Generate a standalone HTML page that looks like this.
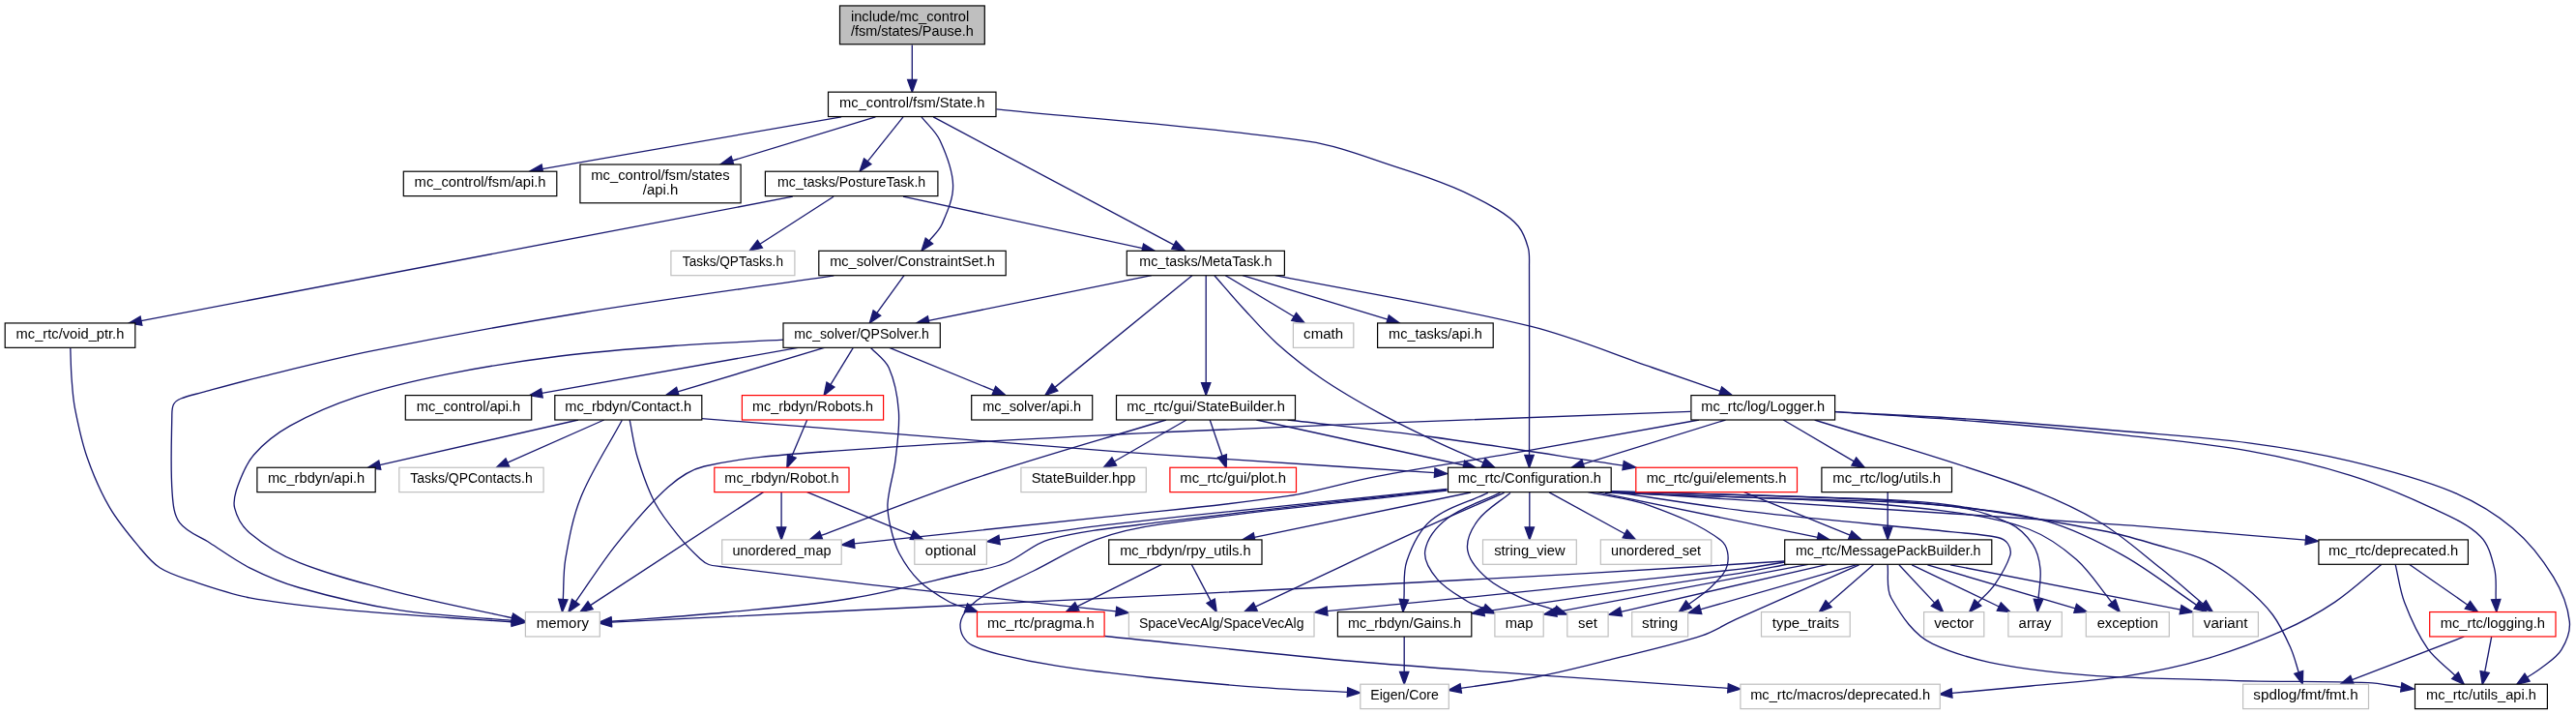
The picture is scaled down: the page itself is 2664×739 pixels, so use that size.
<!DOCTYPE html><html><head><meta charset="utf-8"><title>Pause.h include graph</title><style>html,body{margin:0;padding:0;background:#fff;}svg{display:block;will-change:transform;}text{font-family:"Liberation Sans",sans-serif;font-size:14.0px;fill:#000;}</style></head><body>
<svg width="2664" height="739" viewBox="0 0 2664 739">
<rect width="2664" height="739" fill="#fff"/>
<g fill="none" stroke="#191970" stroke-width="1.33">
<path d="M943.3,46.5L943.3,82.3"/>
<path d="M870.1,120.9L560.91,174.58"/>
<path d="M905.4,120.9L757.53,166.01"/>
<path d="M934,120.9L897.22,166.85"/>
<path d="M953,120.9C959.33,128.93 967.71,135.71 972,145C978.77,159.66 985.23,175.35 985.6,191.5C985.92,205.54 979.54,219.1 974,232C971.18,238.57 965.28,243.33 960.93,249"/>
<path d="M965.2,120.9L1214.02,253.2"/>
<path d="M1030.5,112.8C1138,123.93 1246.06,130.6 1353,146.2C1385.36,150.92 1416.02,163.73 1447.2,173.6C1466.08,179.57 1484.86,186 1503.1,193.7C1518.48,200.19 1533.58,207.51 1547.9,216.1C1556.1,221.02 1564.3,226.56 1570.3,234C1575.44,240.38 1578.24,248.5 1580.4,256.4C1582.04,262.39 1581.47,268.79 1581.5,275C1581.83,340.17 1581.5,405.33 1581.5,470.5"/>
<path d="M819.8,203.2L145.97,331.57"/>
<path d="M862,203.2L785.93,252.25"/>
<path d="M934,203.2L1181.59,256.56"/>
<path d="M862.3,284.8C774.87,297.7 687.23,309.26 600,323.5C528.1,335.23 456.43,348.39 385,362.7C345.57,370.6 306.57,380.57 267.5,390.1C247.8,394.91 228.27,400.38 208.7,405.7C201.43,407.68 193.94,409.08 187,412C184.05,413.24 180.96,415.15 179.5,418C177.66,421.6 177.86,425.96 177.8,430C177.39,456.46 176.16,483 178.1,509.4C178.88,520.03 179.51,531.88 185.9,540.4C193.33,550.3 206.39,554.31 216.8,561C230.46,569.78 243.58,579.54 258.1,586.8C274.7,595.1 291.94,602.44 309.8,607.5C343.72,617.11 378.15,625.33 413,630.7C451.49,636.63 490.57,637.78 529.35,641.32"/>
<path d="M935,284.7L906.92,323.47"/>
<path d="M1190.9,284.7L960.34,331.42"/>
<path d="M1232.9,284.7L1090.88,400.39"/>
<path d="M1247.2,284.7L1247.2,395.6"/>
<path d="M1255.9,284.7C1265.7,295.87 1275.24,307.27 1285.3,318.2C1296.78,330.67 1307.86,343.6 1320.5,354.9C1335.33,368.16 1351.05,380.51 1367.5,391.7C1386.39,404.55 1406.28,415.89 1426.3,426.9C1445.48,437.44 1465.24,446.9 1485,456.3C1501.19,464 1517.75,470.9 1534.13,478.21"/>
<path d="M1267.3,284.7L1338.16,327.3"/>
<path d="M1285,284.7L1434.96,330.22"/>
<path d="M1318.7,284.7C1406.63,302.2 1495.4,315.94 1582.5,337.2C1625.78,347.76 1666.94,365.61 1709.1,380C1732.48,387.98 1755.78,396.22 1779.12,404.33"/>
<path d="M72.8,359.7C73.2,369.8 73.25,379.92 74,390C74.79,400.56 75.37,411.2 77.4,421.6C80.81,439.03 84.43,456.54 90.3,473.3C96.54,491.11 104.08,508.61 113.6,524.9C122.29,539.76 133.58,552.98 144.6,566.2C150.82,573.66 157.06,581.51 165.2,586.8C174.59,592.89 185.58,596.16 196.2,599.7C216.59,606.5 236.97,613.84 258.1,617.8C292.21,624.2 326.87,627.24 361.4,630.7C395.76,634.14 430.26,636.03 464.7,638.5C486.23,640.04 507.79,641.33 529.33,642.75"/>
<path d="M810.7,351.2C772.4,353.3 734.06,354.72 695.8,357.5C656.94,360.32 618.06,363.17 579.4,368C540.38,372.88 501.46,378.89 462.9,386.6C431.53,392.87 400.19,399.91 369.8,409.9C345.68,417.83 322.05,427.78 299.9,440.2C286.02,447.98 273.06,458.01 262.6,470C254.7,479.06 250.11,490.71 246,502C243.36,509.25 240.74,517.41 242.6,524.9C245.02,534.64 250.44,544.22 258.1,550.7C273.45,563.67 291.14,574.24 309.8,581.7C343.15,595.03 378.24,603.59 413,612.6C451.56,622.59 490.74,629.98 529.61,638.66"/>
<path d="M826.7,359.2L560.4,406.33"/>
<path d="M853.3,359.2L700.95,404.87"/>
<path d="M882.5,359.2L858.91,397.53"/>
<path d="M919.2,359.2L1027.87,403.68"/>
<path d="M900.3,359.2C906.6,366.17 915.4,371.51 919.2,380.1C925.41,394.14 928.28,409.69 929.4,425C930.61,441.59 928.08,458.28 926.1,474.8C924.28,490 919.11,504.73 918,520C917.39,528.37 919.11,536.82 921,545C923.13,554.24 925.51,563.64 930,572C935.6,582.43 942.4,592.46 950.9,600.7C959.84,609.37 970.79,615.81 981.6,622C986.93,625.05 993.17,626.14 998.96,628.22"/>
<path d="M598,434L392.78,480.62"/>
<path d="M624.7,434L524.89,478.23"/>
<path d="M643.3,434.2C629.1,460.77 612.07,486.01 600.7,513.9C592.43,534.2 588.56,556.11 584.8,577.7C582.4,591.49 583.12,605.65 582.28,619.62"/>
<path d="M651.2,434.2C653.93,447.23 655.5,460.57 659.4,473.3C664.26,489.19 669.6,505.12 677.4,519.8C684.35,532.88 693.99,544.38 703.3,555.9C709.57,563.66 716.69,570.71 724,577.5C726.64,579.95 729.63,582.22 733,583.5C736.79,584.94 740.98,585 745,585.5C796.65,591.93 848.29,598.44 900,604.3C984.71,613.9 1069.52,622.7 1154.28,631.9"/>
<path d="M725.7,432.6C767.13,435.83 808.57,439 850,442.3C950.01,450.27 1049.95,459.08 1150,466.4C1261.16,474.53 1372.42,481.22 1483.63,488.64"/>
<path d="M834.7,434L818.86,471.52"/>
<path d="M808.1,508.6L808.1,545"/>
<path d="M834.7,508.6L942.97,553.06"/>
<path d="M789.5,508.6L610.58,625.68"/>
<path d="M1206,434C1139.53,454.3 1072.5,472.84 1006.6,494.9C953.51,512.68 901.66,533.94 849.18,553.47"/>
<path d="M1227,434L1152.27,477.01"/>
<path d="M1251.2,434L1263.98,471.2"/>
<path d="M1299.4,434L1513.7,480.73"/>
<path d="M1331.6,434C1381.07,439.83 1430.64,444.8 1480,451.5C1546.34,460.5 1612.43,471.22 1678.64,481.08"/>
<path d="M1748.3,425.4C1658.87,428.73 1569.43,431.91 1480,435.4C1386.66,439.04 1293.29,442.12 1200,446.8C1083.29,452.65 966.54,458.3 850,467C809.24,470.04 768.15,472.9 728.3,482C714.37,485.18 701.81,493.84 691.1,503.3C671.37,520.74 654.54,541.31 638,561.8C622.55,580.94 609.55,601.93 595.32,622"/>
<path d="M1784.5,434L1637.32,479.65"/>
<path d="M1844.3,434L1917.29,476.91"/>
<path d="M1876.6,434C1945.93,456 2016.11,475.51 2084.6,500C2114.32,510.63 2143.55,523.28 2170.8,539.2C2194.12,552.82 2214.21,571.35 2235.4,588.1C2250.08,599.7 2264.03,612.19 2278.35,624.23"/>
<path d="M1898.1,425.6C1948.73,429.07 1999.42,431.88 2050,436C2100.06,440.08 2150.07,444.75 2200,450.2C2242.05,454.79 2284.26,458.68 2325.9,466.1C2361.27,472.4 2396.4,480.61 2430.7,491.3C2459.46,500.26 2487.32,512.12 2514.6,524.9C2532.2,533.14 2551.02,540.7 2565,554.2C2573.79,562.69 2576.76,575.93 2579.7,587.8C2582.25,598.11 2580.69,609.01 2581.19,619.61"/>
<path d="M1898.1,425.6C1948.73,428.4 1999.4,430.58 2050,434C2100.05,437.38 2150.03,441.69 2200,446C2241.99,449.62 2284.12,452.26 2325.9,457.8C2361.08,462.47 2396.19,468.32 2430.7,476.6C2466.2,485.12 2501.85,494.17 2535.6,508.1C2558.24,517.44 2579.85,530.15 2598.6,545.9C2615.31,559.93 2629.16,577.56 2640.5,596.2C2649.02,610.2 2655.49,626.11 2657.3,642.4C2658.42,652.5 2654.19,663.03 2648.9,671.7C2644,679.74 2635.24,684.7 2627.9,690.6C2623.42,694.2 2618.32,696.95 2613.54,700.12"/>
<path d="M1757.1,434C1697.37,444.73 1637.68,455.71 1577.9,466.2C1526.21,475.27 1474.27,482.96 1422.7,492.7C1392.21,498.46 1362.48,508.1 1331.8,512.7C1271.48,521.75 1210.64,526.96 1150,533.6C1061.18,543.33 972.29,552.42 883.43,561.83"/>
<path d="M1496.4,505.5C1380.93,517.6 1265.36,528.71 1150,541.8C1111.07,546.22 1072.38,552.61 1033.58,558.01"/>
<path d="M1496.4,506C1397.6,517.23 1298.66,527.33 1200,539.7C1161.51,544.53 1122.51,547.68 1085,557.6C1068.5,561.96 1055.82,575.6 1040,582C1027.26,587.16 1013.4,588.94 1000,592C960.06,601.11 920.42,611.87 880,618.5C836.97,625.56 793.4,628.83 750,633C710.81,636.76 671.51,639.19 632.26,642.28"/>
<path d="M1496.4,507C1397.6,518.63 1298.53,528.14 1200,541.9C1177.6,545.03 1155.23,549.81 1134,557.6C1111.27,565.94 1090.7,579.26 1069,590C1052.7,598.06 1035.9,605.17 1020,614C1013.79,617.45 1008.13,621.9 1002.9,626.7C999.99,629.37 997.63,632.7 995.8,636.2C994.28,639.1 993,642.33 993,645.6C993,649.67 993.76,653.97 995.8,657.5C998.03,661.36 1001.32,664.91 1005.3,666.9C1014.2,671.35 1023.93,674.04 1033.6,676.4C1053.12,681.16 1072.84,685.15 1092.7,688.2C1124.11,693.02 1155.7,696.67 1187.3,700C1226.64,704.14 1266.05,707.67 1305.5,710.6C1334.8,712.77 1364.18,713.74 1393.52,715.31"/>
<path d="M1520.9,509L1297.23,555.36"/>
<path d="M1555.6,509.4C1527.63,521.67 1499.5,533.57 1471.7,546.2C1430.97,564.7 1390.55,583.89 1350,602.8C1332.74,610.85 1315.51,618.98 1298.27,627.08"/>
<path d="M1538.8,509.4C1519.2,518.87 1496.68,523.82 1480,537.8C1467.52,548.26 1460.19,564.3 1454.9,579.7C1450.56,592.33 1452.89,606.32 1451.88,619.64"/>
<path d="M1551.4,509.4C1533.23,518.17 1512.88,523.39 1496.9,535.7C1486.16,543.98 1476.03,555.82 1473.8,569.2C1472.04,579.72 1479.55,590.43 1486.4,598.6C1494.75,608.56 1506.81,614.77 1517.8,621.7C1522.89,624.91 1528.84,626.47 1534.36,628.85"/>
<path d="M1561.9,509.4C1550.7,518.87 1537,526 1528.3,537.8C1521.75,546.68 1515.92,558.32 1517.8,569.2C1519.85,581.07 1529.66,590.76 1538.8,598.6C1549.74,607.98 1563.52,613.55 1576.6,619.6C1586.71,624.28 1597.62,626.99 1608.14,630.69"/>
<path d="M1581.8,508.6L1581.8,545"/>
<path d="M1602.1,508.9L1680.4,551.76"/>
<path d="M1640.6,508.2C1662.67,513.07 1685.55,515.1 1706.8,522.8C1732.35,532.06 1758.44,542.15 1780,558.7C1786.87,563.98 1788.19,575.42 1786.4,583.9C1784.5,592.93 1776.46,599.62 1770,606.2C1763.02,613.31 1754.3,618.47 1746.45,624.6"/>
<path d="M1649.1,508.2L1879.76,555.39"/>
<path d="M1664,507.8C1713.83,514.93 1763.51,523.29 1813.5,529.2C1882.2,537.32 1951.19,542.73 2020,549.9C2035.36,551.5 2050.9,552.27 2066,555.5C2070.03,556.36 2074.2,558.58 2076.5,562C2078.84,565.48 2079.98,570.4 2078.7,574.4C2075.31,584.96 2069.37,594.65 2063.1,603.8C2058.18,610.99 2051.3,616.62 2045.4,623.03"/>
<path d="M1660,509.2C1728.83,511.47 1797.68,513.27 1866.5,516C1917.69,518.03 1969.13,517.48 2020,523.5C2040.29,525.9 2060.26,532.31 2078.7,541.1C2088.3,545.68 2096.3,553.84 2102.2,562.7C2107.11,570.07 2109.11,579.29 2110,588.1C2111.06,598.58 2108.63,609.12 2107.95,619.63"/>
<path d="M1660,509.2C1738.67,512.13 1817.4,513.59 1896,518C1937.44,520.33 1978.91,523.51 2020,529.4C2046.48,533.2 2073.33,537.41 2098.3,547C2116.39,553.95 2132.76,565.48 2147.3,578.3C2161.68,590.98 2171.77,607.83 2184,622.59"/>
<path d="M1660,507.7C1748.5,510.47 1837.04,512.12 1925.5,516C1957.07,517.39 1988.63,519.72 2020,523.5C2052.81,527.46 2086.15,530.03 2117.9,539.2C2145.39,547.14 2171.23,560.41 2196.2,574.4C2222.67,589.23 2246.48,608.35 2271.63,625.33"/>
<path d="M1660,507.7C1780,515.47 1900,523.2 2020,531C2080,534.9 2140.02,538.54 2200,542.8C2226.89,544.71 2253.73,547.25 2280.6,549.5C2315.22,552.39 2349.83,555.31 2384.45,558.21"/>
<path d="M1660,507.7C1758.33,510.67 1856.7,512.56 1955,516.6C1976.74,517.49 1998.47,519.35 2020,522.5C2072.42,530.16 2124.68,538.97 2176.7,549C2194.74,552.48 2212.36,557.89 2230,563C2247,567.93 2264.6,571.53 2280.6,579.1C2295.2,586.01 2308.34,595.85 2320.9,606C2331.72,614.74 2342.06,624.37 2350.4,635.5C2358.33,646.07 2363.76,658.36 2369.2,670.4C2372.74,678.25 2374.57,686.76 2377.25,694.95"/>
<path d="M1803.6,508.6L1913.25,553.11"/>
<path d="M1952.2,508.6L1952.2,545"/>
<path d="M1201.5,583.3L1113.84,626.82"/>
<path d="M1232.2,583.3L1252.14,621.1"/>
<path d="M1845.6,580C1777.07,584.2 1708.55,588.73 1640,592.6C1543.35,598.06 1446.67,603.01 1350,608C1272.14,612.01 1194.27,615.79 1116.4,619.6C1037.6,623.46 958.8,627.16 880,631C797.43,635.02 714.86,639.11 632.28,643.16"/>
<path d="M1845.6,581C1830.4,583.37 1815.29,586.39 1800,588.1C1711.97,597.96 1623.83,606.74 1535.7,615.7C1481.34,621.22 1426.93,626.26 1372.54,631.54"/>
<path d="M1850,583C1833.33,586.1 1816.75,589.69 1800,592.3C1711.63,606.05 1623.1,618.82 1534.66,632.07"/>
<path d="M1870,583.3L1609.27,632.59"/>
<path d="M1890,583.3L1676.37,632.29"/>
<path d="M1921.1,583.3L1758.5,629.92"/>
<path d="M1937.9,583.3L1891.1,624.06"/>
<path d="M1922.6,583.8C1880.3,602.5 1837.88,620.93 1795.7,639.9C1783.78,645.26 1772.74,652.78 1760.3,656.8C1730.29,666.5 1699.4,673.24 1668.8,680.9C1643.22,687.31 1617.69,694 1591.8,699C1564.96,704.18 1537.77,707.29 1510.75,711.43"/>
<path d="M1952.1,583.8C1953.33,595.2 1950.13,608.03 1955.8,618C1966.31,636.49 1979.26,656.34 1998.5,665.4C2035.26,682.71 2076.68,688.94 2117,693.9C2179.8,701.63 2243.36,701.05 2306.6,703.3C2353.98,704.98 2401.43,703.83 2448.8,705.7C2460.4,706.16 2471.81,708.76 2483.31,710.29"/>
<path d="M1963.9,583.8L2000.71,623.11"/>
<path d="M1977.2,583.8L2067.28,626.98"/>
<path d="M1993.4,583.8L2146.13,628.92"/>
<path d="M2017,583.8L2255.04,630.12"/>
<path d="M2463,583.3C2446.97,596.23 2432.01,610.62 2414.9,622.1C2397.94,633.48 2379.89,643.37 2361.2,651.6C2335,663.13 2308.08,673.19 2280.6,681.2C2254.21,688.89 2227.17,694.42 2200,698.6C2166.88,703.7 2133.35,705.72 2100,709C2072.87,711.66 2045.7,713.95 2018.55,716.42"/>
<path d="M2491.5,583.3L2551.92,625.19"/>
<path d="M2477.2,583.3C2480.37,596.47 2481.87,610.15 2486.7,622.8C2493,639.3 2500.33,655.69 2510.4,670.2C2518.01,681.17 2529.47,688.87 2539.01,698.21"/>
<path d="M2548.3,658L2432.43,702.63"/>
<path d="M2576.7,658L2569.66,694.53"/>
<path d="M1142.4,657.5C1228.27,666.17 1314.04,675.79 1400,683.5C1463.85,689.23 1527.85,693.21 1591.8,697.8C1656.86,702.47 1721.95,706.8 1787.03,711.3"/>
<path d="M1452.2,658L1452.2,694.3"/>
</g>
<g fill="#191970" stroke="#191970" stroke-width="1.33">
<path d="M943.3,95.3L938.63,82.3L947.97,82.3Z"/>
<path d="M548.1,176.8L560.11,169.98L561.71,179.18Z"/>
<path d="M745.1,169.8L756.17,161.54L758.9,170.47Z"/>
<path d="M889.1,177L893.58,163.93L900.87,169.77Z"/>
<path d="M953,259.3L957.22,246.15L964.63,251.84Z"/>
<path d="M1225.5,259.3L1211.83,257.32L1216.21,249.07Z"/>
<path d="M1581.5,483.5L1576.83,470.5L1586.17,470.5Z"/>
<path d="M133.2,334L145.1,326.98L146.84,336.15Z"/>
<path d="M775,259.3L783.39,248.33L788.46,256.18Z"/>
<path d="M1194.3,259.3L1180.61,261.13L1182.58,252Z"/>
<path d="M542.3,642.5L528.93,645.97L529.78,636.67Z"/>
<path d="M899.3,334L903.14,320.73L910.71,326.21Z"/>
<path d="M947.6,334L959.41,326.84L961.27,336Z"/>
<path d="M1080.8,408.6L1087.93,396.77L1093.83,404.01Z"/>
<path d="M1247.2,408.6L1242.53,395.6L1251.87,395.6Z"/>
<path d="M1546,483.5L1532.23,482.47L1536.03,473.94Z"/>
<path d="M1349.3,334L1335.75,331.3L1340.56,323.3Z"/>
<path d="M1447.4,334L1433.6,334.69L1436.32,325.76Z"/>
<path d="M1791.4,408.6L1777.59,408.74L1780.65,399.92Z"/>
<path d="M542.3,643.6L529.02,647.41L529.63,638.09Z"/>
<path d="M542.3,641.5L528.59,643.22L530.63,634.11Z"/>
<path d="M547.6,408.6L559.59,401.74L561.21,410.93Z"/>
<path d="M688.5,408.6L699.61,400.39L702.29,409.34Z"/>
<path d="M852.1,408.6L854.94,395.08L862.89,399.98Z"/>
<path d="M1039.9,408.6L1026.1,408L1029.64,399.35Z"/>
<path d="M1011.2,632.6L997.39,632.61L1000.54,623.82Z"/>
<path d="M380.1,483.5L391.74,476.07L393.81,485.17Z"/>
<path d="M513,483.5L522.99,473.96L526.78,482.5Z"/>
<path d="M581.5,632.6L577.62,619.34L586.94,619.9Z"/>
<path d="M1167.2,633.3L1153.77,636.54L1154.78,627.25Z"/>
<path d="M1496.6,489.5L1483.32,493.3L1483.94,483.98Z"/>
<path d="M813.8,483.5L814.55,469.71L823.16,473.34Z"/>
<path d="M808.1,558L803.43,545L812.77,545Z"/>
<path d="M955,558L941.2,557.38L944.75,548.74Z"/>
<path d="M599.7,632.8L608.02,621.77L613.14,629.59Z"/>
<path d="M837,558L847.56,549.09L850.81,557.84Z"/>
<path d="M1141,483.5L1149.94,472.97L1154.6,481.06Z"/>
<path d="M1268.2,483.5L1259.56,472.72L1268.39,469.69Z"/>
<path d="M1526.4,483.5L1512.7,485.29L1514.69,476.17Z"/>
<path d="M1691.5,483L1677.95,485.7L1679.33,476.47Z"/>
<path d="M587.8,632.6L591.51,619.29L599.13,624.7Z"/>
<path d="M1624.9,483.5L1635.93,475.19L1638.7,484.11Z"/>
<path d="M1928.5,483.5L1914.93,480.94L1919.66,472.89Z"/>
<path d="M2288.3,632.6L2275.35,627.81L2281.36,620.66Z"/>
<path d="M2581.8,632.6L2576.53,619.83L2585.86,619.4Z"/>
<path d="M2602.7,707.3L2610.96,696.23L2616.12,704.01Z"/>
<path d="M870.5,563.2L882.94,557.19L883.92,566.47Z"/>
<path d="M1020.7,559.8L1032.93,553.38L1034.22,562.63Z"/>
<path d="M619.3,643.3L631.89,637.62L632.63,646.93Z"/>
<path d="M1406.5,716L1393.27,719.97L1393.77,710.64Z"/>
<path d="M1284.5,558L1296.28,550.79L1298.18,559.93Z"/>
<path d="M1286.5,632.6L1296.28,622.85L1300.25,631.3Z"/>
<path d="M1450.9,632.6L1447.22,619.28L1456.54,619.99Z"/>
<path d="M1546.3,634L1532.51,633.14L1536.21,624.56Z"/>
<path d="M1620.4,635L1606.59,635.09L1609.68,626.28Z"/>
<path d="M1581.8,558L1577.13,545L1586.47,545Z"/>
<path d="M1691.8,558L1678.15,555.85L1682.64,547.66Z"/>
<path d="M1736.2,632.6L1743.57,620.92L1749.32,628.28Z"/>
<path d="M1892.5,558L1878.83,559.97L1880.7,550.82Z"/>
<path d="M2036.6,632.6L2041.97,619.87L2048.84,626.2Z"/>
<path d="M2107.1,632.6L2103.29,619.32L2112.61,619.93Z"/>
<path d="M2192.3,632.6L2180.41,625.57L2187.6,619.61Z"/>
<path d="M2282.4,632.6L2269.01,629.2L2274.24,621.46Z"/>
<path d="M2397.4,559.3L2384.06,562.87L2384.84,553.56Z"/>
<path d="M2381.3,707.3L2372.81,696.4L2381.69,693.49Z"/>
<path d="M1925.3,558L1911.5,557.44L1915.01,548.78Z"/>
<path d="M1952.2,558L1947.53,545L1956.87,545Z"/>
<path d="M1102.2,632.6L1111.77,622.64L1115.92,631Z"/>
<path d="M1258.2,632.6L1248,623.28L1256.27,618.92Z"/>
<path d="M619.3,643.8L632.06,638.5L632.51,647.83Z"/>
<path d="M1359.6,632.8L1372.09,626.9L1372.99,636.19Z"/>
<path d="M1521.8,634L1533.96,627.45L1535.35,636.69Z"/>
<path d="M1596.5,635L1608.41,628L1610.14,637.17Z"/>
<path d="M1663.7,635.2L1675.33,627.74L1677.41,636.85Z"/>
<path d="M1746,633.5L1757.21,625.43L1759.78,634.41Z"/>
<path d="M1881.3,632.6L1888.04,620.54L1894.17,627.58Z"/>
<path d="M1497.9,713.4L1510.04,706.81L1511.46,716.05Z"/>
<path d="M2496.2,712L2482.7,714.92L2483.93,705.66Z"/>
<path d="M2009.6,632.6L1997.31,626.3L2004.12,619.92Z"/>
<path d="M2079,632.6L2065.26,631.19L2069.3,622.77Z"/>
<path d="M2158.6,632.6L2144.81,633.4L2147.46,624.44Z"/>
<path d="M2267.8,632.6L2254.15,634.7L2255.93,625.53Z"/>
<path d="M2005.6,717.6L2018.12,711.77L2018.97,721.07Z"/>
<path d="M2562.6,632.6L2549.26,629.03L2554.58,621.35Z"/>
<path d="M2548.3,707.3L2535.74,701.54L2542.28,694.87Z"/>
<path d="M2420.3,707.3L2430.75,698.27L2434.11,706.99Z"/>
<path d="M2567.2,707.3L2565.07,693.65L2574.25,695.42Z"/>
<path d="M1800,712.2L1786.71,715.96L1787.35,706.64Z"/>
<path d="M1452.2,707.3L1447.53,694.3L1456.87,694.3Z"/>
</g>
<rect x="868.5" y="5.95" width="149.8" height="39.8" fill="#bfbfbf" stroke="#000" stroke-width="1.2"/>
<text x="879.91" y="21.75" textLength="122.39" lengthAdjust="spacingAndGlyphs">include/mc_control</text>
<text x="879.91" y="36.75" textLength="126.97" lengthAdjust="spacingAndGlyphs">/fsm/states/Pause.h</text>
<rect x="856.5" y="95.15" width="173.5" height="25.4" fill="#fff" stroke="#000" stroke-width="1.2"/>
<text x="943.25" y="111.15" text-anchor="middle" textLength="150.35" lengthAdjust="spacingAndGlyphs">mc_control/fsm/State.h</text>
<rect x="417.3" y="177.2" width="158.5" height="25.4" fill="#fff" stroke="#000" stroke-width="1.2"/>
<text x="496.55" y="193.2" text-anchor="middle" textLength="135.82" lengthAdjust="spacingAndGlyphs">mc_control/fsm/api.h</text>
<rect x="599.9" y="170" width="166.2" height="39.8" fill="#fff" stroke="#000" stroke-width="1.2"/>
<text x="683" y="185.8" text-anchor="middle" textLength="143.3" lengthAdjust="spacingAndGlyphs">mc_control/fsm/states</text>
<text x="683" y="200.8" text-anchor="middle" textLength="36.45" lengthAdjust="spacingAndGlyphs">/api.h</text>
<rect x="791.4" y="177.2" width="178.5" height="25.4" fill="#fff" stroke="#000" stroke-width="1.2"/>
<text x="880.65" y="193.2" text-anchor="middle" textLength="153.17" lengthAdjust="spacingAndGlyphs">mc_tasks/PostureTask.h</text>
<rect x="693.9" y="259.3" width="128" height="25.4" fill="#fff" stroke="#bfbfbf" stroke-width="1.2"/>
<text x="757.9" y="275.3" text-anchor="middle" textLength="104.08" lengthAdjust="spacingAndGlyphs">Tasks/QPTasks.h</text>
<rect x="846.8" y="259.3" width="193.4" height="25.4" fill="#fff" stroke="#000" stroke-width="1.2"/>
<text x="943.5" y="275.3" text-anchor="middle" textLength="170.53" lengthAdjust="spacingAndGlyphs">mc_solver/ConstraintSet.h</text>
<rect x="1165.3" y="259.3" width="163.1" height="25.4" fill="#fff" stroke="#000" stroke-width="1.2"/>
<text x="1246.85" y="275.3" text-anchor="middle" textLength="137.01" lengthAdjust="spacingAndGlyphs">mc_tasks/MetaTask.h</text>
<rect x="5.2" y="333.95" width="134.6" height="25.4" fill="#fff" stroke="#000" stroke-width="1.2"/>
<text x="72.5" y="349.95" text-anchor="middle" textLength="111.74" lengthAdjust="spacingAndGlyphs">mc_rtc/void_ptr.h</text>
<rect x="810" y="333.95" width="162.3" height="25.4" fill="#fff" stroke="#000" stroke-width="1.2"/>
<text x="891.15" y="349.95" text-anchor="middle" textLength="139.63" lengthAdjust="spacingAndGlyphs">mc_solver/QPSolver.h</text>
<rect x="1337.4" y="333.95" width="62.4" height="25.4" fill="#fff" stroke="#bfbfbf" stroke-width="1.2"/>
<text x="1368.6" y="349.95" text-anchor="middle" textLength="40.96" lengthAdjust="spacingAndGlyphs">cmath</text>
<rect x="1424.6" y="333.95" width="119.6" height="25.4" fill="#fff" stroke="#000" stroke-width="1.2"/>
<text x="1484.4" y="349.95" text-anchor="middle" textLength="96.66" lengthAdjust="spacingAndGlyphs">mc_tasks/api.h</text>
<rect x="419.3" y="408.6" width="130.4" height="25.4" fill="#fff" stroke="#000" stroke-width="1.2"/>
<text x="484.5" y="424.6" text-anchor="middle" textLength="107.54" lengthAdjust="spacingAndGlyphs">mc_control/api.h</text>
<rect x="573.8" y="408.6" width="152" height="25.4" fill="#fff" stroke="#000" stroke-width="1.2"/>
<text x="649.8" y="424.6" text-anchor="middle" textLength="130.91" lengthAdjust="spacingAndGlyphs">mc_rbdyn/Contact.h</text>
<rect x="767.4" y="408.6" width="146.2" height="25.4" fill="#fff" stroke="#ff0000" stroke-width="1.2"/>
<text x="840.5" y="424.6" text-anchor="middle" textLength="124.84" lengthAdjust="spacingAndGlyphs">mc_rbdyn/Robots.h</text>
<rect x="1004.7" y="408.6" width="125" height="25.4" fill="#fff" stroke="#000" stroke-width="1.2"/>
<text x="1067.2" y="424.6" text-anchor="middle" textLength="101.87" lengthAdjust="spacingAndGlyphs">mc_solver/api.h</text>
<rect x="1154.5" y="408.6" width="185" height="25.4" fill="#fff" stroke="#000" stroke-width="1.2"/>
<text x="1247" y="424.6" text-anchor="middle" textLength="163.69" lengthAdjust="spacingAndGlyphs">mc_rtc/gui/StateBuilder.h</text>
<rect x="1748.9" y="408.6" width="148.7" height="25.4" fill="#fff" stroke="#000" stroke-width="1.2"/>
<text x="1823.25" y="424.6" text-anchor="middle" textLength="127.97" lengthAdjust="spacingAndGlyphs">mc_rtc/log/Logger.h</text>
<rect x="265.9" y="483.25" width="122.3" height="25.4" fill="#fff" stroke="#000" stroke-width="1.2"/>
<text x="327.05" y="499.25" text-anchor="middle" textLength="100.29" lengthAdjust="spacingAndGlyphs">mc_rbdyn/api.h</text>
<rect x="412.8" y="483.25" width="149.3" height="25.4" fill="#fff" stroke="#bfbfbf" stroke-width="1.2"/>
<text x="487.45" y="499.25" text-anchor="middle" textLength="126.52" lengthAdjust="spacingAndGlyphs">Tasks/QPContacts.h</text>
<rect x="738.8" y="483.25" width="139.2" height="25.4" fill="#fff" stroke="#ff0000" stroke-width="1.2"/>
<text x="808.4" y="499.25" text-anchor="middle" textLength="118.09" lengthAdjust="spacingAndGlyphs">mc_rbdyn/Robot.h</text>
<rect x="1055.9" y="483.25" width="129.4" height="25.4" fill="#fff" stroke="#bfbfbf" stroke-width="1.2"/>
<text x="1120.6" y="499.25" text-anchor="middle" textLength="107.65" lengthAdjust="spacingAndGlyphs">StateBuilder.hpp</text>
<rect x="1209.9" y="483.25" width="130.6" height="25.4" fill="#fff" stroke="#ff0000" stroke-width="1.2"/>
<text x="1275.2" y="499.25" text-anchor="middle" textLength="109.63" lengthAdjust="spacingAndGlyphs">mc_rtc/gui/plot.h</text>
<rect x="1497.5" y="483.25" width="168.7" height="25.4" fill="#fff" stroke="#000" stroke-width="1.2"/>
<text x="1581.85" y="499.25" text-anchor="middle" textLength="148.24" lengthAdjust="spacingAndGlyphs">mc_rtc/Configuration.h</text>
<rect x="1691.8" y="483.25" width="166.7" height="25.4" fill="#fff" stroke="#ff0000" stroke-width="1.2"/>
<text x="1775.15" y="499.25" text-anchor="middle" textLength="144.95" lengthAdjust="spacingAndGlyphs">mc_rtc/gui/elements.h</text>
<rect x="1883.9" y="483.25" width="134.6" height="25.4" fill="#fff" stroke="#000" stroke-width="1.2"/>
<text x="1951.2" y="499.25" text-anchor="middle" textLength="111.76" lengthAdjust="spacingAndGlyphs">mc_rtc/log/utils.h</text>
<rect x="746.7" y="557.9" width="123.5" height="25.4" fill="#fff" stroke="#bfbfbf" stroke-width="1.2"/>
<text x="808.45" y="573.9" text-anchor="middle" textLength="102.09" lengthAdjust="spacingAndGlyphs">unordered_map</text>
<rect x="945.8" y="557.9" width="74.6" height="25.4" fill="#fff" stroke="#bfbfbf" stroke-width="1.2"/>
<text x="983.1" y="573.9" text-anchor="middle" textLength="52.48" lengthAdjust="spacingAndGlyphs">optional</text>
<rect x="1146.7" y="557.9" width="158.3" height="25.4" fill="#fff" stroke="#000" stroke-width="1.2"/>
<text x="1225.85" y="573.9" text-anchor="middle" textLength="135.45" lengthAdjust="spacingAndGlyphs">mc_rbdyn/rpy_utils.h</text>
<rect x="1533.5" y="557.9" width="96.8" height="25.4" fill="#fff" stroke="#bfbfbf" stroke-width="1.2"/>
<text x="1581.9" y="573.9" text-anchor="middle" textLength="73.43" lengthAdjust="spacingAndGlyphs">string_view</text>
<rect x="1655.3" y="557.9" width="114.5" height="25.4" fill="#fff" stroke="#bfbfbf" stroke-width="1.2"/>
<text x="1712.55" y="573.9" text-anchor="middle" textLength="93.12" lengthAdjust="spacingAndGlyphs">unordered_set</text>
<rect x="1845.7" y="557.9" width="214.1" height="25.4" fill="#fff" stroke="#000" stroke-width="1.2"/>
<text x="1952.75" y="573.9" text-anchor="middle" textLength="191.57" lengthAdjust="spacingAndGlyphs">mc_rtc/MessagePackBuilder.h</text>
<rect x="2397.9" y="557.9" width="154.5" height="25.4" fill="#fff" stroke="#000" stroke-width="1.2"/>
<text x="2475.15" y="573.9" text-anchor="middle" textLength="134.15" lengthAdjust="spacingAndGlyphs">mc_rtc/deprecated.h</text>
<rect x="543.4" y="632.55" width="76.9" height="25.4" fill="#fff" stroke="#bfbfbf" stroke-width="1.2"/>
<text x="581.85" y="648.55" text-anchor="middle" textLength="54.11" lengthAdjust="spacingAndGlyphs">memory</text>
<rect x="1010.5" y="632.55" width="131.6" height="25.4" fill="#fff" stroke="#ff0000" stroke-width="1.2"/>
<text x="1076.3" y="648.55" text-anchor="middle" textLength="110.68" lengthAdjust="spacingAndGlyphs">mc_rtc/pragma.h</text>
<rect x="1167.4" y="632.55" width="191.6" height="25.4" fill="#fff" stroke="#bfbfbf" stroke-width="1.2"/>
<text x="1263.2" y="648.55" text-anchor="middle" textLength="170.53" lengthAdjust="spacingAndGlyphs">SpaceVecAlg/SpaceVecAlg</text>
<rect x="1383.4" y="632.55" width="138.4" height="25.4" fill="#fff" stroke="#000" stroke-width="1.2"/>
<text x="1452.6" y="648.55" text-anchor="middle" textLength="117.05" lengthAdjust="spacingAndGlyphs">mc_rbdyn/Gains.h</text>
<rect x="1545.9" y="632.55" width="50.3" height="25.4" fill="#fff" stroke="#bfbfbf" stroke-width="1.2"/>
<text x="1571.05" y="648.55" text-anchor="middle" textLength="28.78" lengthAdjust="spacingAndGlyphs">map</text>
<rect x="1620.8" y="632.55" width="42.3" height="25.4" fill="#fff" stroke="#bfbfbf" stroke-width="1.2"/>
<text x="1641.95" y="648.55" text-anchor="middle" textLength="19.79" lengthAdjust="spacingAndGlyphs">set</text>
<rect x="1687.7" y="632.55" width="57.9" height="25.4" fill="#fff" stroke="#bfbfbf" stroke-width="1.2"/>
<text x="1716.65" y="648.55" text-anchor="middle" textLength="37.18" lengthAdjust="spacingAndGlyphs">string</text>
<rect x="1821.5" y="632.55" width="91.7" height="25.4" fill="#fff" stroke="#bfbfbf" stroke-width="1.2"/>
<text x="1867.35" y="648.55" text-anchor="middle" textLength="69.17" lengthAdjust="spacingAndGlyphs">type_traits</text>
<rect x="1989.6" y="632.55" width="62.2" height="25.4" fill="#fff" stroke="#bfbfbf" stroke-width="1.2"/>
<text x="2020.7" y="648.55" text-anchor="middle" textLength="41.08" lengthAdjust="spacingAndGlyphs">vector</text>
<rect x="2076.9" y="632.55" width="55.4" height="25.4" fill="#fff" stroke="#bfbfbf" stroke-width="1.2"/>
<text x="2104.6" y="648.55" text-anchor="middle" textLength="33.96" lengthAdjust="spacingAndGlyphs">array</text>
<rect x="2157.3" y="632.55" width="86" height="25.4" fill="#fff" stroke="#bfbfbf" stroke-width="1.2"/>
<text x="2200.3" y="648.55" text-anchor="middle" textLength="63.29" lengthAdjust="spacingAndGlyphs">exception</text>
<rect x="2267.9" y="632.55" width="67.5" height="25.4" fill="#fff" stroke="#bfbfbf" stroke-width="1.2"/>
<text x="2301.65" y="648.55" text-anchor="middle" textLength="45.75" lengthAdjust="spacingAndGlyphs">variant</text>
<rect x="2512.7" y="632.55" width="130.3" height="25.4" fill="#fff" stroke="#ff0000" stroke-width="1.2"/>
<text x="2577.85" y="648.55" text-anchor="middle" textLength="108.41" lengthAdjust="spacingAndGlyphs">mc_rtc/logging.h</text>
<rect x="1406.8" y="707.2" width="91.5" height="25.4" fill="#fff" stroke="#bfbfbf" stroke-width="1.2"/>
<text x="1452.55" y="723.2" text-anchor="middle" textLength="70.51" lengthAdjust="spacingAndGlyphs">Eigen/Core</text>
<rect x="1799.9" y="707.2" width="206.4" height="25.4" fill="#fff" stroke="#bfbfbf" stroke-width="1.2"/>
<text x="1903.1" y="723.2" text-anchor="middle" textLength="185.9" lengthAdjust="spacingAndGlyphs">mc_rtc/macros/deprecated.h</text>
<rect x="2319.6" y="707.2" width="129.9" height="25.4" fill="#fff" stroke="#bfbfbf" stroke-width="1.2"/>
<text x="2384.55" y="723.2" text-anchor="middle" textLength="108.48" lengthAdjust="spacingAndGlyphs">spdlog/fmt/fmt.h</text>
<rect x="2497.5" y="707.2" width="136.9" height="25.4" fill="#fff" stroke="#000" stroke-width="1.2"/>
<text x="2565.95" y="723.2" text-anchor="middle" textLength="113.87" lengthAdjust="spacingAndGlyphs">mc_rtc/utils_api.h</text>
</svg></body></html>
